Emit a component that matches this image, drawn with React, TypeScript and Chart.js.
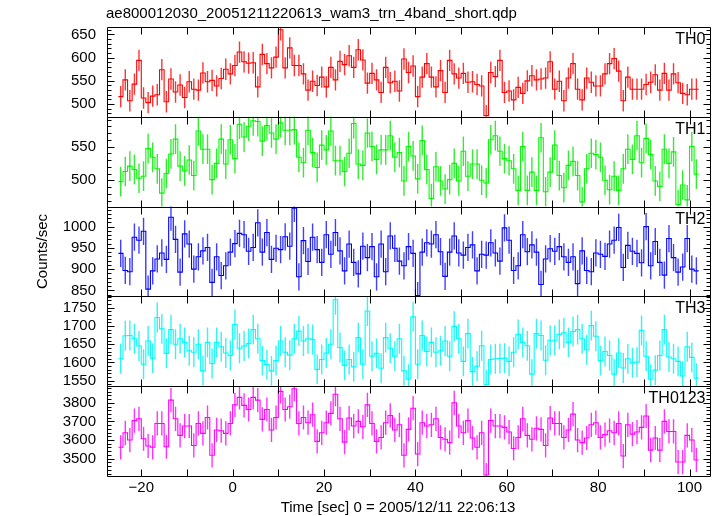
import React, { useEffect, useRef } from "react";
import { Chart, registerables } from "chart.js";
Chart.register(...registerables);

// ---- data ----
const TIME_START = -25; // sec, start of first bin
const BIN_WIDTH = 1; // sec

const TH0 = [
  516, 552, 507, 543, 594, 513, 503, 517, 520, 574,
  505, 554, 526, 541, 514, 548, 532, 530, 567, 548,
  551, 539, 555, 575, 565, 583, 612, 591, 588, 589,
  537, 607, 587, 578, 601, 660, 578, 621, 583, 583,
  565, 530, 549, 540, 558, 537, 579, 552, 592, 585,
  604, 579, 617, 595, 545, 566, 552, 525, 579, 546,
  549, 528, 597, 568, 582, 516, 558, 587, 558, 537,
  572, 525, 594, 565, 556, 566, 547, 548, 542, 539,
  475, 568, 559, 594, 525, 528, 509, 536, 523, 550,
  561, 552, 554, 556, 591, 532, 549, 507, 556, 587,
  532, 509, 556, 547, 539, 539, 565, 587, 598, 571,
  507, 558, 532, 532, 532, 542, 547, 563, 530, 566,
  530, 565, 546, 523, 520, 532, 532,
];
const TH1 = [
  498, 513, 521, 516, 503, 506, 547, 534, 517, 481,
  510, 539, 561, 521, 514, 530, 507, 573, 546, 546,
  501, 525, 561, 524, 560, 532, 583, 564, 580, 588,
  587, 558, 581, 570, 561, 585, 574, 574, 575, 534,
  526, 574, 541, 519, 552, 545, 573, 529, 529, 513,
  540, 584, 524, 522, 570, 550, 531, 545, 545, 566,
  534, 541, 499, 550, 536, 502, 559, 516, 473, 520,
  499, 487, 501, 525, 499, 543, 506, 524, 524, 500,
  496, 560, 566, 543, 532, 529, 517, 485, 550, 485,
  512, 485, 563, 483, 512, 552, 507, 489, 522, 528,
  507, 468, 517, 540, 538, 534, 500, 486, 506, 485,
  517, 546, 531, 566, 526, 562, 538, 499, 491, 546,
  525, 542, 464, 493, 471, 550, 509,
];
const TH2 = [
  937, 897, 894, 975, 968, 989, 853, 896, 924, 938,
  923, 1022, 970, 893, 983, 959, 900, 929, 943, 951,
  869, 929, 885, 908, 940, 960, 984, 981, 942, 951,
  1009, 940, 986, 923, 949, 946, 976, 954, 1043, 882,
  967, 918, 975, 946, 916, 981, 935, 986, 943, 896,
  959, 916, 889, 954, 927, 953, 882, 959, 894, 978,
  949, 919, 908, 953, 937, 838, 940, 962, 959, 981,
  941, 883, 940, 978, 938, 933, 951, 957, 896, 935,
  933, 962, 938, 919, 997, 968, 897, 908, 981, 941,
  957, 940, 864, 924, 948, 942, 953, 929, 916, 929,
  866, 943, 897, 894, 938, 935, 930, 959, 968, 998,
  904, 956, 942, 937, 915, 1000, 908, 965, 916, 886,
  972, 927, 893, 905, 972, 900, 896,
];
const TH3 = [
  1610, 1673, 1674, 1665, 1645, 1595, 1659, 1612, 1723, 1692,
  1625, 1690, 1650, 1665, 1655, 1632, 1628, 1650, 1577, 1655,
  1597, 1655, 1643, 1626, 1619, 1704, 1639, 1645, 1652, 1690,
  1665, 1605, 1594, 1577, 1605, 1659, 1628, 1620, 1665, 1686,
  1659, 1665, 1663, 1581, 1608, 1626, 1650, 1772, 1641, 1592,
  1608, 1588, 1668, 1595, 1741, 1617, 1625, 1584, 1668, 1639,
  1617, 1665, 1577, 1554, 1725, 1595, 1674, 1630, 1655, 1628,
  1632, 1659, 1617, 1699, 1665, 1603, 1679, 1575, 1590, 1646,
  1539, 1608, 1610, 1611, 1612, 1603, 1628, 1677, 1655, 1646,
  1568, 1679, 1674, 1606, 1661, 1661, 1677, 1681, 1655, 1685,
  1690, 1665, 1635, 1701, 1672, 1605, 1630, 1619, 1568, 1626,
  1585, 1610, 1599, 1601, 1688, 1617, 1554, 1579, 1619, 1690,
  1615, 1610, 1603, 1563, 1643, 1614, 1557,
];
const TH0123 = [
  3561, 3639, 3600, 3704, 3714, 3607, 3568, 3561, 3689, 3689,
  3564, 3814, 3714, 3625, 3675, 3675, 3571, 3689, 3636, 3721,
  3518, 3654, 3650, 3636, 3689, 3789, 3829, 3786, 3764, 3829,
  3814, 3711, 3764, 3654, 3721, 3861, 3764, 3779, 3875, 3689,
  3721, 3693, 3736, 3593, 3639, 3693, 3743, 3846, 3714, 3589,
  3718, 3675, 3700, 3671, 3789, 3689, 3593, 3614, 3693, 3732,
  3654, 3682, 3518, 3657, 3771, 3525, 3693, 3675, 3682, 3714,
  3614, 3604, 3586, 3800, 3675, 3639, 3704, 3611, 3561, 3639,
  3412, 3704, 3675, 3675, 3668, 3643, 3555, 3614, 3714, 3625,
  3604, 3663, 3657, 3571, 3718, 3689, 3689, 3614, 3654, 3739,
  3600, 3586, 3611, 3682, 3693, 3614, 3629, 3650, 3639, 3689,
  3514, 3682, 3632, 3643, 3668, 3729, 3546, 3611, 3546, 3700,
  3646, 3646, 3482, 3482, 3625, 3600, 3493,
];

// 1-sigma errors (counts/sec) per band
const ERR_TH0 = 23;
const ERR_TH1 = 22;
const ERR_TH2 = 32;
const ERR_TH3 = 41;
const ERR_TH0123 = 65;

const PANEL_NAMES = ["TH0", "TH1", "TH2", "TH3", "TH0123"];
const PANEL_VALUES = [TH0, TH1, TH2, TH3, TH0123];
const PANEL_ERRORS = [ERR_TH0, ERR_TH1, ERR_TH2, ERR_TH3, ERR_TH0123];
const PANEL_COLORS = ["#ff0000", "#00ff00", "#0000ff", "#00ffff", "#ff00ff"];
const ERR_COLORS = [
  "rgba(255,0,0,0.8)",
  "rgba(0,230,0,0.8)",
  "rgba(0,0,255,0.75)",
  "rgba(0,240,240,0.8)",
  "rgba(255,0,255,0.8)",
];
const Y_MIN = [472.5, 461, 836, 1535, 3407];
const Y_MAX = [666, 594, 1047, 1781, 3889];
const Y_MAJOR = [50, 50, 50, 50, 100];
const Y_MINOR = [10, 10, 10, 10, 20];

const X_MIN = -27.5;
const X_MAX = 104.7;
const X_LABEL_STEP = 20;
const X_TICK_STEP = 10;

const TITLE = "ae800012030_20051211220613_wam3_trn_4band_short.qdp";
const X_TITLE = "Time [sec] 0 = 2005/12/11 22:06:13";
const Y_TITLE = "Counts/sec";

const FONT = "'Liberation Sans', Arial, Helvetica, sans-serif";

const decorPlugin = {
  id: "qdpDecor",
  afterDraw(chart: any) {
    const ctx = chart.ctx as CanvasRenderingContext2D;
    const xs = chart.scales.x;
    const L = Math.round(xs.left) + 0.5;
    const R = Math.round(xs.right) - 0.5;
    ctx.save();
    ctx.strokeStyle = "#000";
    ctx.lineWidth = 1;
    ctx.fillStyle = "#000";
    for (let i = 0; i < PANEL_NAMES.length; i++) {
      const ys = chart.scales["y" + i];
      const T = Math.round(ys.top) + 0.5;
      const B = Math.round(ys.bottom) + 0.5;
      ctx.beginPath();
      ctx.rect(L, T, R - L, B - T);
      // y ticks
      const k0 = Math.ceil(Y_MIN[i] / Y_MINOR[i]);
      const k1 = Math.floor(Y_MAX[i] / Y_MINOR[i]);
      const ratio = Y_MAJOR[i] / Y_MINOR[i];
      for (let k = k0; k <= k1; k++) {
        const py = Math.round(ys.getPixelForValue(k * Y_MINOR[i])) + 0.5;
        const len = k % ratio === 0 ? 7 : 4;
        ctx.moveTo(L, py);
        ctx.lineTo(L + len, py);
        ctx.moveTo(R, py);
        ctx.lineTo(R - len, py);
      }
      // x ticks
      const j0 = Math.ceil(X_MIN / X_TICK_STEP);
      const j1 = Math.floor(X_MAX / X_TICK_STEP);
      for (let j = j0; j <= j1; j++) {
        const px = Math.round(xs.getPixelForValue(j * X_TICK_STEP)) + 0.5;
        ctx.moveTo(px, T);
        ctx.lineTo(px, T + 7);
        ctx.moveTo(px, B);
        ctx.lineTo(px, B - 7);
      }
      ctx.stroke();
      // panel label
      ctx.font = "16px " + FONT;
      ctx.textAlign = "right";
      ctx.textBaseline = "alphabetic";
      ctx.fillText(PANEL_NAMES[i], R - 5, ys.top + 17);
    }
    // titles
    ctx.font = "15px " + FONT;
    ctx.textAlign = "left";
    ctx.textBaseline = "alphabetic";
    ctx.fillText(TITLE, 106, 18);
    ctx.textAlign = "center";
    ctx.fillText(X_TITLE, 398, 512);
    const yTop = chart.scales["y0"].top;
    const yBot = chart.scales["y" + (PANEL_NAMES.length - 1)].bottom;
    ctx.translate(47, (yTop + yBot) / 2);
    ctx.rotate(-Math.PI / 2);
    ctx.fillText(Y_TITLE, 0, 0);
    ctx.restore();
  },
};

export default function App() {
  const ref = useRef<HTMLCanvasElement | null>(null);
  useEffect(() => {
    if (!ref.current) return;
    const datasets: any[] = [];
    const scales: any = {
      x: {
        type: "linear",
        position: "bottom",
        min: X_MIN,
        max: X_MAX,
        offset: false,
        grid: { display: false, drawTicks: false },
        border: { display: false },
        ticks: {
          stepSize: X_LABEL_STEP,
          includeBounds: false,
          autoSkip: false,
          maxRotation: 0,
          padding: 3,
          color: "#000",
          font: { size: 15, family: FONT },
          callback: (v: number) => (v < 0 ? "\u2212" + Math.abs(v) : String(v)),
        },
        afterFit: (s: any) => {
          s.height = 40;
        },
      },
    };
    PANEL_NAMES.forEach((name, i) => {
      const vals = PANEL_VALUES[i];
      const steps = vals.map((v, b) => ({ x: TIME_START + b * BIN_WIDTH, y: v }));
      steps.push({ x: TIME_START + vals.length * BIN_WIDTH, y: vals[vals.length - 1] });
      datasets.push({
        type: "bar",
        label: name + " err",
        yAxisID: "y" + i,
        data: vals.map((v, b) => ({
          x: TIME_START + (b + 0.5) * BIN_WIDTH,
          y: [v - PANEL_ERRORS[i], v + PANEL_ERRORS[i]],
        })),
        grouped: false,
        barThickness: 1.4,
        backgroundColor: ERR_COLORS[i],
        borderWidth: 0,
        inflateAmount: 0,
      });
      datasets.push({
        type: "line",
        label: name,
        yAxisID: "y" + i,
        data: steps,
        stepped: true,
        borderColor: PANEL_COLORS[i],
        borderWidth: 1.1,
        pointRadius: 0,
        fill: false,
      });
      scales["y" + i] = {
        type: "linear",
        position: "left",
        stack: "panels",
        stackWeight: 1,
        weight: 10 - i,
        min: Y_MIN[i],
        max: Y_MAX[i],
        grid: { display: false, drawTicks: false },
        border: { display: false },
        ticks: {
          stepSize: Y_MAJOR[i],
          includeBounds: false,
          autoSkip: false,
          padding: 11,
          color: "#000",
          font: { size: 15, family: FONT },
          callback: (v: number) => String(v),
        },
        afterFit: (s: any) => {
          s.width = 107;
        },
      };
    });
    const chart = new Chart(ref.current, {
      type: "line",
      data: { datasets },
      options: {
        responsive: false,
        animation: false,
        devicePixelRatio: 1,
        layout: { padding: { left: 0, right: 6, top: 27, bottom: 0 } },
        plugins: {
          legend: { display: false },
          tooltip: { enabled: false },
          title: { display: false },
        },
        scales,
      },
      plugins: [decorPlugin],
    } as any);
    return () => chart.destroy();
  }, []);
  return (
    <div style={{ position: "absolute", left: 0, top: 0, width: 717, height: 516, background: "#fff" }}>
      <canvas ref={ref} width={717} height={516} style={{ width: 717, height: 516 }} />
    </div>
  );
}
